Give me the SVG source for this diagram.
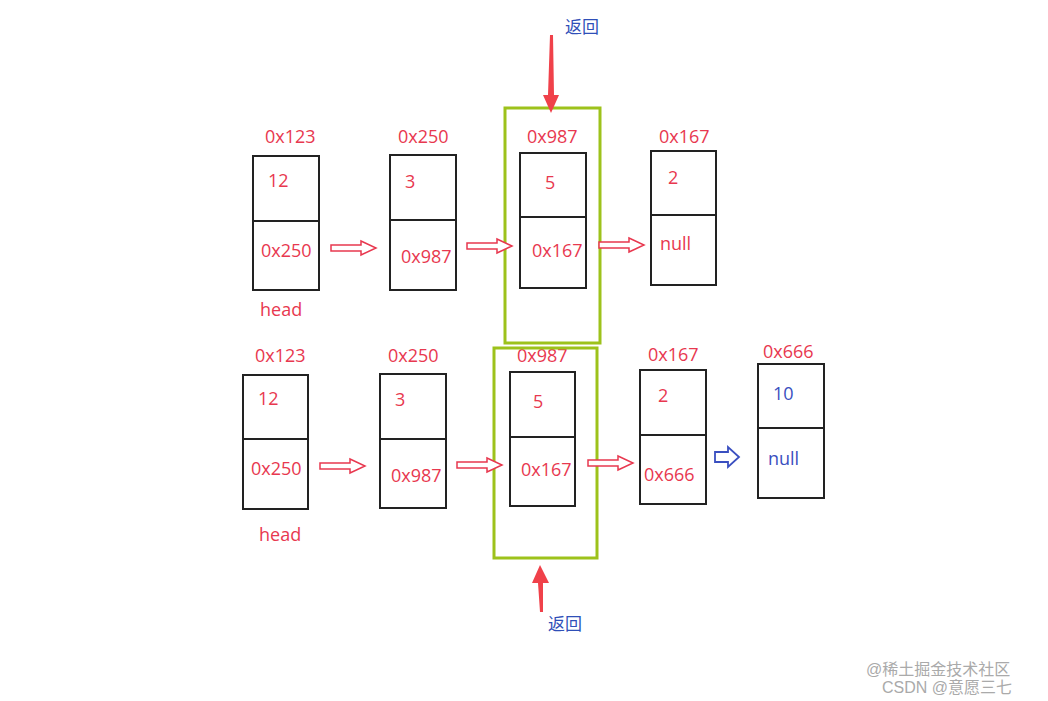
<svg xmlns="http://www.w3.org/2000/svg" width="1048" height="701" viewBox="0 0 1048 701">
<style>
.box{fill:none;stroke:#222;stroke-width:2}
.t{font-family:"Open Sans","Liberation Sans",sans-serif;font-size:18px;fill:#e8384f}
.b{fill:#3a4fc0}
.g{fill:none;stroke:#9dc21b;stroke-width:3}
.ha{fill:#fff;stroke:#e8384f;stroke-width:1.5}
.hb{fill:#fff;stroke:#3a4fc0;stroke-width:1.8}
.cn{font-family:"Liberation Sans","Noto Sans CJK SC",sans-serif;font-size:17px;fill:#2f4fb8}
.wm{font-family:"Liberation Sans","Noto Sans CJK SC",sans-serif;font-size:16px;fill:#aaa}
</style>
<defs>
<polygon id="ha" points="0,-3 30,-3 30,-7 45,0 30,7 30,3 0,3"/>
</defs>
<rect width="1048" height="701" fill="#fff"/>
<g id="n1"><rect class="box" x="253" y="156" width="66" height="134"/><line class="box" x1="253" y1="221" x2="319" y2="221"/><text class="t" x="265" y="143">0x123</text><text class="t" x="268" y="187">12</text><text class="t" x="261" y="257">0x250</text><text class="t" x="260" y="316">head</text></g>
<g id="n2"><rect class="box" x="390" y="155" width="66" height="135"/><line class="box" x1="390" y1="220" x2="456" y2="220"/><text class="t" x="398" y="143">0x250</text><text class="t" x="405" y="188">3</text><text class="t" x="401" y="263">0x987</text></g>
<g id="n3"><rect class="box" x="520" y="153" width="66" height="135"/><line class="box" x1="520" y1="217" x2="586" y2="217"/><text class="t" x="527" y="143">0x987</text><text class="t" x="545" y="189">5</text><text class="t" x="532" y="257">0x167</text></g>
<g id="n4"><rect class="box" x="651" y="151" width="65" height="134"/><line class="box" x1="651" y1="215" x2="716" y2="215"/><text class="t" x="659" y="143">0x167</text><text class="t" x="668" y="184">2</text><text class="t" x="660" y="250">null</text></g>
<g id="m1"><rect class="box" x="243" y="375" width="65" height="134"/><line class="box" x1="243" y1="439" x2="308" y2="439"/><text class="t" x="255" y="362">0x123</text><text class="t" x="258" y="405">12</text><text class="t" x="251" y="475">0x250</text><text class="t" x="259" y="541">head</text></g>
<g id="m2"><rect class="box" x="380" y="374" width="66" height="134"/><line class="box" x1="380" y1="439" x2="446" y2="439"/><text class="t" x="388" y="362">0x250</text><text class="t" x="395" y="406">3</text><text class="t" x="391" y="482">0x987</text></g>
<g id="m3"><rect class="box" x="510" y="372" width="65" height="134"/><line class="box" x1="510" y1="437" x2="575" y2="437"/><text class="t" x="517" y="362">0x987</text><text class="t" x="533" y="408">5</text><text class="t" x="521" y="476">0x167</text></g>
<g id="m4"><rect class="box" x="640" y="370" width="66" height="134"/><line class="box" x1="640" y1="435" x2="706" y2="435"/><text class="t" x="648" y="361">0x167</text><text class="t" x="658" y="402">2</text><text class="t" x="644" y="481">0x666</text></g>
<g id="m5"><rect class="box" x="758" y="364" width="66" height="134"/><line class="box" x1="758" y1="428" x2="824" y2="428"/><text class="t" x="763" y="358">0x666</text><text class="t b" x="773" y="400">10</text><text class="t b" x="768" y="465">null</text></g>
<g id="frames"><rect class="g" x="505" y="108" width="95" height="235"/><rect class="g" x="494" y="348" width="103" height="210"/></g>
<g id="connectors">
<use href="#ha" class="ha" transform="translate(331,248)"/>
<use href="#ha" class="ha" transform="translate(467,246)"/>
<use href="#ha" class="ha" transform="translate(599,245)"/>
<use href="#ha" class="ha" transform="translate(320,466)"/>
<use href="#ha" class="ha" transform="translate(457,465)"/>
<use href="#ha" class="ha" transform="translate(588,463)"/>
<polygon class="hb" points="715,452 728,452 728,447 739,457 728,467 728,462 715,462"/>
<polygon fill="#f0414a" points="550,35 553,35 554,95 559,95 551,113 543,95 548,95"/>
<polygon fill="#f0414a" points="540,612 543,612 543,583 549,583 540,565 532,583 538,583"/>
</g>
<text class="cn" x="565" y="33">返回</text>
<text class="cn" x="548" y="630">返回</text>
<text class="wm" x="866" y="675">@稀土掘金技术社区</text>
<text class="wm" x="882" y="693">CSDN @意愿三七</text>
</svg>
